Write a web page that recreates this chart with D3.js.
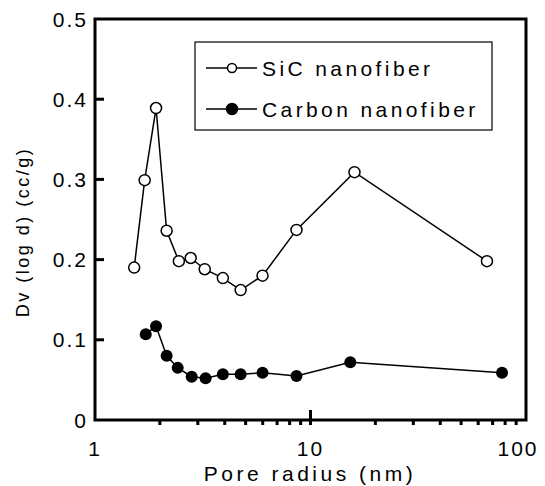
<html>
<head>
    <meta charset="utf-8">
    <title>Pore size distribution</title>
    <script src="https://cdn.jsdelivr.net/npm/d3@7/dist/d3.min.js"></script>
</head>
<style>
    html, body { margin: 0; padding: 0; background: #fff; }
    svg text { font-family: "Liberation Sans", Arial, sans-serif; fill: #000; }
</style>
<body>
<svg width="545" height="486" id="mainsvg"></svg>
<script>
    // data
    const sicRadius = [1.52, 1.70, 1.92, 2.15, 2.45, 2.78, 3.23, 3.92, 4.74, 5.99, 8.61, 16.0, 65.9];
    const sicDv = [0.190, 0.299, 0.389, 0.236, 0.198, 0.202, 0.188, 0.177, 0.162, 0.180, 0.237, 0.309, 0.198];
    const carbonRadius = [1.72, 1.92, 2.15, 2.42, 2.81, 3.26, 3.92, 4.74, 5.99, 8.61, 15.3, 77.4];
    const carbonDv = [0.107, 0.117, 0.080, 0.065, 0.054, 0.052, 0.057, 0.057, 0.059, 0.055, 0.072, 0.059];
    const yTicks = [0, 0.1, 0.2, 0.3, 0.4, 0.5];
    const yTickLabels = ['0', '0.1', '0.2', '0.3', '0.4', '0.5'];
    const xTicks = [1, 10, 100];
    const xTickLabels = ['1', '10', '100'];
    const seriesNames = ['SiC nanofiber', 'Carbon nanofiber'];

    const svg = d3.select('svg');
    const xScale = d3.scaleLog().domain([1, 100]).range([95, 526]);
    const yScale = d3.scaleLinear().domain([0, 0.5]).range([420, 19]);

    const sic = sicRadius.map((r, i) => ({r: r, v: sicDv[i]}));
    const carbon = carbonRadius.map((r, i) => ({r: r, v: carbonDv[i]}));

    // frame
    svg.append('rect')
        .attr('x', xScale(1)).attr('y', yScale(0.5))
        .attr('width', xScale(100) - xScale(1)).attr('height', yScale(0) - yScale(0.5))
        .attr('fill', 'none').attr('stroke', '#000').attr('stroke-width', 3);

    // y ticks (inward) and labels
    svg.append('g').selectAll('line').data(yTicks.slice(1, 5)).join('line')
        .attr('x1', xScale(1)).attr('x2', xScale(1) + 9)
        .attr('y1', d => yScale(d)).attr('y2', d => yScale(d))
        .attr('stroke', '#000').attr('stroke-width', 3);
    svg.append('g').selectAll('text').data(yTicks).join('text')
        .attr('x', 88).attr('y', d => yScale(d))
        .attr('dy', '0.36em')
        .attr('text-anchor', 'end')
        .style('font-size', '21px').style('letter-spacing', '2px')
        .text((d, i) => yTickLabels[i]);

    // x minor ticks (outward) and major tick at 10
    const minor = [];
    [1, 10].forEach(dec => { for (let k = 2; k <= 9; k++) minor.push(dec * k); });
    svg.append('g').selectAll('line').data(minor).join('line')
        .attr('x1', d => xScale(d)).attr('x2', d => xScale(d))
        .attr('y1', yScale(0)).attr('y2', yScale(0) + 5)
        .attr('stroke', '#000').attr('stroke-width', 3);
    svg.append('line')
        .attr('x1', xScale(10)).attr('x2', xScale(10))
        .attr('y1', yScale(0) - 10).attr('y2', yScale(0) + 5)
        .attr('stroke', '#000').attr('stroke-width', 3);
    svg.append('g').selectAll('text').data(xTicks).join('text')
        .attr('x', (d, i) => xScale(d) + (i === 2 ? -8 : 0))
        .attr('y', 456)
        .attr('text-anchor', 'middle')
        .style('font-size', '21px').style('letter-spacing', '2px')
        .text((d, i) => xTickLabels[i]);

    // axis titles
    svg.append('text')
        .attr('x', 310).attr('y', 481)
        .attr('text-anchor', 'middle')
        .style('font-size', '21px').style('letter-spacing', '3.5px')
        .text('Pore radius (nm)');
    svg.append('text')
        .attr('transform', 'translate(29, 232) rotate(-90)')
        .attr('text-anchor', 'middle')
        .style('font-size', '18px').style('letter-spacing', '2.5px')
        .text('Dv (log d) (cc/g)');

    // series
    const line = d3.line().x(d => xScale(d.r)).y(d => yScale(d.v));
    svg.append('path').datum(sic).attr('d', line)
        .attr('fill', 'none').attr('stroke', '#000').attr('stroke-width', 1.5);
    svg.append('path').datum(carbon).attr('d', line)
        .attr('fill', 'none').attr('stroke', '#000').attr('stroke-width', 1.5);
    svg.append('g').selectAll('circle').data(sic).join('circle')
        .attr('cx', d => xScale(d.r)).attr('cy', d => yScale(d.v)).attr('r', 5.5)
        .attr('fill', '#fff').attr('stroke', '#000').attr('stroke-width', 1.5);
    svg.append('g').selectAll('circle').data(carbon).join('circle')
        .attr('cx', d => xScale(d.r)).attr('cy', d => yScale(d.v)).attr('r', 6)
        .attr('fill', '#000');

    // legend
    const legend = svg.append('g');
    legend.append('rect')
        .attr('x', 195).attr('y', 42).attr('width', 297).attr('height', 88)
        .attr('fill', '#fff').attr('stroke', '#000').attr('stroke-width', 1.2);
    seriesNames.forEach((name, i) => {
        const ly = 68 + i * 41;
        legend.append('line')
            .attr('x1', 206).attr('x2', 257).attr('y1', ly).attr('y2', ly)
            .attr('stroke', '#000').attr('stroke-width', 1.5);
        legend.append('circle')
            .attr('cx', 232).attr('cy', ly).attr('r', i === 0 ? 4.5 : 5.5)
            .attr('fill', i === 0 ? '#fff' : '#000')
            .attr('stroke', '#000').attr('stroke-width', 1.5);
        legend.append('text')
            .attr('x', 262).attr('y', ly).attr('dy', '0.36em')
            .style('font-size', '21px').style('letter-spacing', '3.4px')
            .text(name);
    });
</script>
</body>
</html>
